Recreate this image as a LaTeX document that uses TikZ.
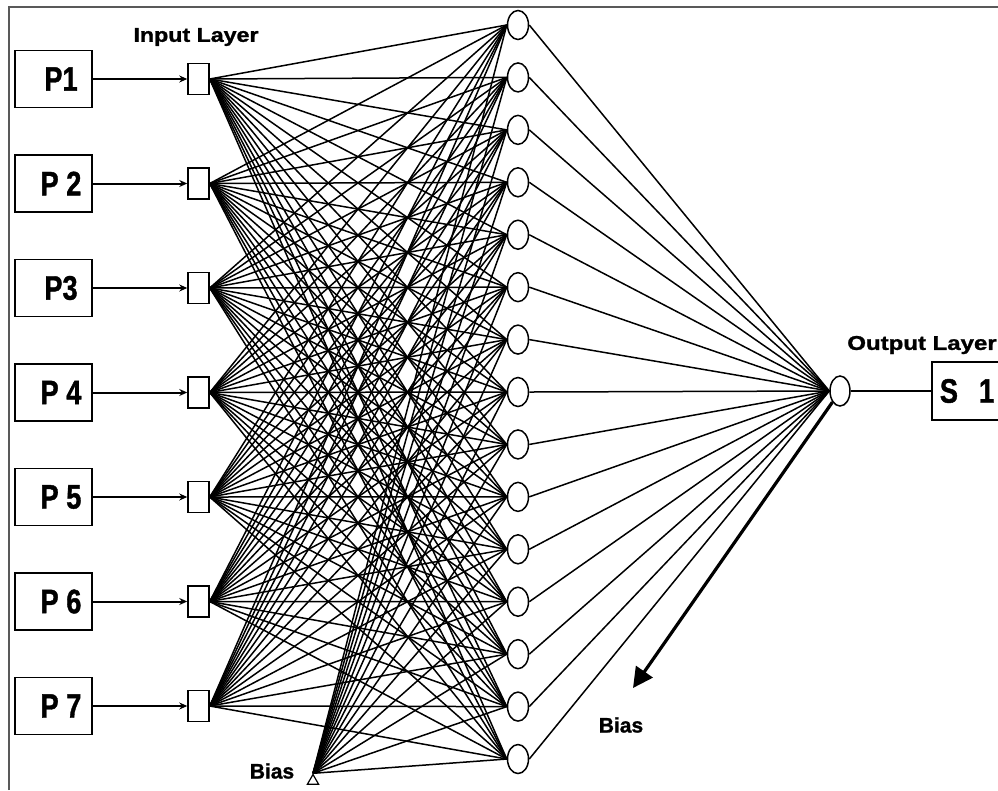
\documentclass[tikz,border=0pt]{standalone}
\usepackage{fontspec}
\setmainfont{Liberation Sans}
\newfontfamily\heavy{Liberation Sans}[BoldFont={* Bold}, BoldFeatures={FakeBold=1.2}]
\usetikzlibrary{shapes.geometric, arrows.meta}

% stretch or squeeze a label sideways
\newcommand{\wide}[2]{\scalebox{#1}[1]{#2}}

\begin{document}
\begin{tikzpicture}[x=1pt, y=-1pt,
  every node/.style={inner sep=0pt, font=\heavy\bfseries},
  pbox/.style={draw, line width=1.8pt, minimum width=77pt, minimum height=57pt,
    font=\fontsize{34}{34}\selectfont\heavy\bfseries},
  unit/.style={draw, line width=1.5pt, fill=white, minimum width=21pt, minimum height=31pt},
  neuron/.style={draw, ellipse, line width=1.5pt, fill=white, minimum width=21pt, minimum height=29pt},
  biasmark/.style={draw, regular polygon, regular polygon sides=3, line width=1.2pt, minimum size=13pt},
  title/.style={font=\fontsize{20}{20}\selectfont\heavy\bfseries},
  wire/.style={line width=1.5pt},
  feed/.style={line width=2pt, -{Stealth[length=8pt, width=7pt]}},
  biasarrow/.style={line width=3.2pt, -{Triangle[length=20pt, width=20pt]}}
]
\useasboundingbox (0,0) rectangle (998,790);
\draw [line width=2.5pt, black!65] (9,790) -- (9,7) -- (998,7);

% inputs and their units
\foreach \i/\t in {1/P1, 2/P 2, 3/P3, 4/P 4, 5/P 5, 6/P 6, 7/P 7} {
  \node [pbox] (p\i) at (53.5, {79+104.5*(\i-1)}) {\hspace*{15pt}\wide{0.8}{\t}};
  \node [unit] (in\i) at (198.5, {79+104.5*(\i-1)}) {};
  \draw [feed] (p\i.east) -- (in\i.west);
}
\node [title] (inlabel) at (196,37) {\wide{1.16}{Input Layer}};

% hidden layer
\foreach \j in {1,...,15}
  \node [neuron] (h\j) at (518, {25+52.43*(\j-1)}) {};

% output side
\node [neuron, minimum width=20pt, minimum height=30pt] (out) at (840,391) {};
\node [pbox, minimum width=70pt, minimum height=58pt] (s1) at (967,391) {\wide{0.8}{S}\hspace{21pt}\wide{0.8}{1}};
\node [title] (outlabel) at (922,345) {\wide{1.2}{Output Layer}};
\draw [wire] (out.east) -- (s1.west);

% bias
\node [biasmark] (bias) at (313,781) {};
\node [title, font=\fontsize{21}{21}\selectfont\heavy\bfseries] (biaslabel) at (272,771) {Bias};
\coordinate (biastip) at (633,688);
\draw [biasarrow] (out.south west) -- (biastip);
\node [title, font=\fontsize{21}{21}\selectfont\heavy\bfseries] (outbias) at (621,725) {Bias};

% weights
\foreach \j in {1,...,15} {
  \foreach \i in {1,...,7}
    \draw [wire] (in\i.east) -- (h\j.west);
  \draw [wire] (bias.north) -- (h\j.west);
  \draw [wire] (h\j.east) -- (out.west);
}
\end{tikzpicture}
\end{document}
